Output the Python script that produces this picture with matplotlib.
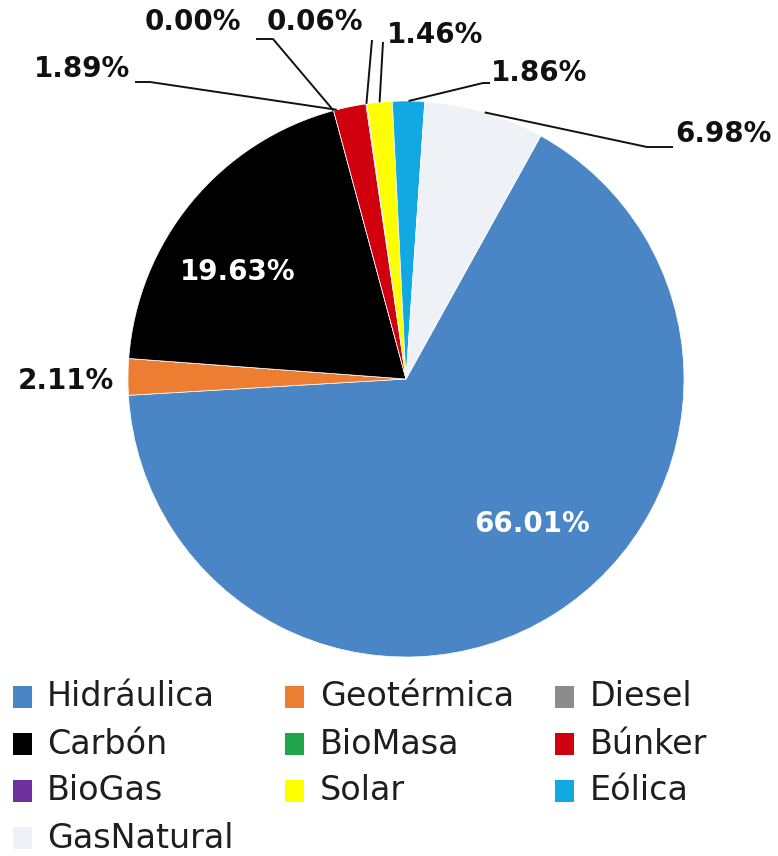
import matplotlib
matplotlib.use('Agg')
import matplotlib.pyplot as plt
from matplotlib.patches import Rectangle
import numpy as np

# Generation share by source (%)
categories = ['Hidráulica', 'Geotérmica', 'Diesel', 'Carbón', 'BioMasa',
              'Búnker', 'BioGas', 'Solar', 'Eólica', 'GasNatural']
shares = [66.01, 2.11, 0.00, 19.63, 0.00, 1.89, 0.06, 1.46, 1.86, 6.98]
colors = ['#4a86c6', '#ed7d31', '#8c8c8c', '#000000', '#1fa64a',
          '#d0000e', '#7030a0', '#ffff00', '#12a8e2', '#eef1f5']

W, H = 778, 856
cx, cy, r = 406, 379, 278


def py(y):
    # pixel row -> data y (axes fill the figure, 1 unit = 1 px)
    return H - y


fig = plt.figure(figsize=(W / 100, H / 100), dpi=100)
ax = fig.add_axes([0, 0, 1, 1])

wedges, _ = ax.pie(shares, colors=colors, startangle=61, counterclock=False,
                   center=(cx, py(cy)), radius=r,
                   wedgeprops=dict(edgecolor='white', linewidth=0.5))
ax.set_xlim(0, W)
ax.set_ylim(0, H)
ax.set_aspect('equal')
ax.axis('off')

lab_kw = dict(fontsize=20, fontweight='bold', ha='center', va='center')

# labels inside the big slices
inside = {'Hidráulica': (532, 524), 'Carbón': (238, 272)}
for name, (x, y) in inside.items():
    i = categories.index(name)
    ax.text(x, py(y), '%.2f%%' % shares[i], color='white', **lab_kw)

# outside labels: text centre, leader points (text side first), rim anchor fraction
outside = {
    'Geotérmica': dict(xy=(66, 381), path=None, frac=0.5),
    'Búnker': dict(xy=(82, 69), path=[(135, 82), (150, 82)], frac=0.1),
    'BioMasa': dict(xy=(193, 22), path=[(256, 39), (273, 39)], frac=0.5),
    'BioGas': dict(xy=(315, 22), path=[(372, 40)], frac=0.5),
    'Solar': dict(xy=(435, 35), path=[(383, 42)], frac=0.5),
    'Eólica': dict(xy=(539, 73), path=[(490, 83), (483, 83)], frac=0.5),
    'GasNatural': dict(xy=(723, 134), path=[(673, 147), (647, 147)], frac=0.5),
}
for name, o in outside.items():
    i = categories.index(name)
    x, y = o['xy']
    ax.text(x, py(y), '%.2f%%' % shares[i], color='#111111', **lab_kw)
    if o['path'] is None:
        continue
    w = wedges[i]
    th = np.deg2rad(w.theta2 - o['frac'] * (w.theta2 - w.theta1))
    ax_x = cx + r * np.cos(th)
    ax_y = py(cy) + r * np.sin(th)
    xs = [p[0] for p in o['path']] + [ax_x]
    ys = [py(p[1]) for p in o['path']] + [ax_y]
    ax.plot(xs, ys, color='#111111', lw=1.4, solid_capstyle='butt')

# legend, drawn by hand in a 3-column grid
sq_x = [13, 285, 555]
txt_x = [47, 320, 590]
rows = [697, 744, 791, 838]
for k, name in enumerate(categories):
    row, col = divmod(k, 3)
    y = rows[row]
    ax.add_patch(Rectangle((sq_x[col], py(y) - 11), 19, 22,
                           facecolor=colors[k], edgecolor='none'))
    ax.text(txt_x[col], py(y), name, fontsize=24, color='#1e1e1e',
            ha='left', va='center')

fig.savefig('out.png', dpi=100, facecolor='white')
